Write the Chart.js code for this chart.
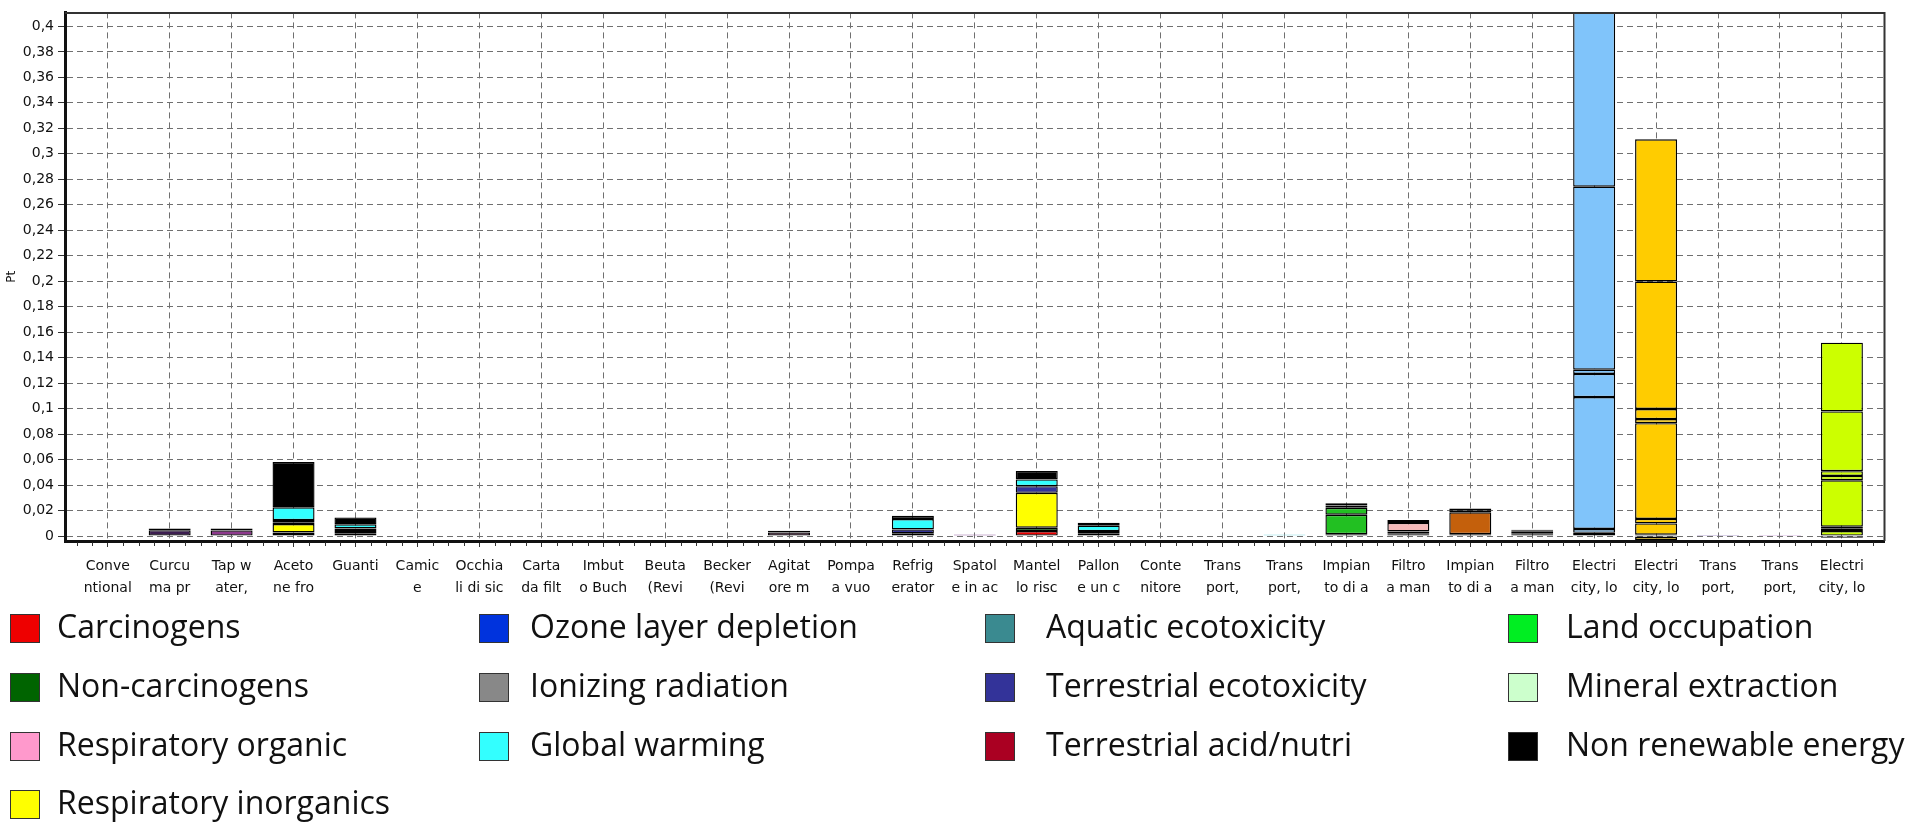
<!DOCTYPE html>
<html lang="it">
<head>
<meta charset="utf-8">
<title>Impact 2002+ – contributi per processo</title>
<script src="https://cdn.jsdelivr.net/npm/chart.js@4.4.1/dist/chart.umd.min.js"></script>
<style>
  html, body { margin: 0; padding: 0; background: #fff; }
  #wrap { position: relative; width: 1911px; height: 829px; overflow: hidden; }
  #chart { position: absolute; left: 0; top: 0; }
  #legend { position: absolute; left: 0; top: 0; width: 1911px; height: 829px; pointer-events: none;
            font-family: "Open Sans", sans-serif; font-size: 32px; color: #111; }
  .lg-box { position: absolute; width: 30px; height: 29px; box-sizing: border-box; border: 1px solid #333; }
  .lg-text { position: absolute; line-height: 1; white-space: nowrap; }
</style>
</head>
<body>
<div id="wrap">
  <canvas id="chart" width="1911" height="829"></canvas>
  <div id="legend"></div>
</div>
<script>
// Process names as shown under each bar (truncated, two lines)
const categoryLabels = [
  ["Conve", "ntional"], ["Curcu", "ma pr"], ["Tap w", "ater,"], ["Aceto", "ne fro"],
  ["Guanti", ""], ["Camic", "e"], ["Occhia", "li di sic"], ["Carta", "da filt"],
  ["Imbut", "o Buch"], ["Beuta", "(Revi"], ["Becker", "(Revi"], ["Agitat", "ore m"],
  ["Pompa", "a vuo"], ["Refrig", "erator"], ["Spatol", "e in ac"], ["Mantel", "lo risc"],
  ["Pallon", "e un c"], ["Conte", "nitore"], ["Trans", "port,"], ["Trans", "port,"],
  ["Impian", "to di a"], ["Filtro", "a man"], ["Impian", "to di a"], ["Filtro", "a man"],
  ["Electri", "city, lo"], ["Electri", "city, lo"], ["Trans", "port,"], ["Trans", "port,"],
  ["Electri", "city, lo"]
];

// Impact categories, in stacking order (bottom to top)
const impactNames = [
  "Carcinogens", "Non-carcinogens", "Respiratory inorganics", "Ionizing radiation",
  "Ozone layer depletion", "Respiratory organic", "Aquatic ecotoxicity",
  "Terrestrial ecotoxicity", "Terrestrial acid/nutri", "Land occupation",
  "Global warming", "Non renewable energy", "Mineral extraction"
];
const impactColours = [
  "#ee0000", "#006400", "#ffff00", "#888888",
  "#0033dd", "#ff99cc", "#3a8a90",
  "#333399", "#aa0022", "#00ee22",
  "#33ffff", "#000000", "#ccffcc"
];

// Single fill used for every segment of some processes (null = per-category colour)
const processColours = [
  null, "#3c1e50", "#8e3a8e", null, null, null, null, null,
  null, null, null, "#5c2048", null, null, "#9c6aa8", null,
  null, "#b8b8c8", "#b8b8c8", "#8adfe6", "#22c022", "#f4b8b8", "#c4600c", "#99dd99",
  "#80c4fa", "#ffcc00", "#6a4a9a", "#b070c0", "#ccff00"
];

// Scores in Pt, one array per impact category, one value per process
//                          0       1       2       3       4   5 6 7 8 9 10      11  12      13      14      15      16      17      18      19      20      21      22      23      24      25       26      27      28
const carcinogens       = [0, 0,      0,      0.0008, 0,      0,0,0,0,0,0, 0,      0, 0.0021, 0,      0.0039, 0,      0,      0,      0,      0.0014, 0.0010, 0.0014, 0.0010, 0.0025, 0.0010,  0,      0,      0.0039];
const nonCarcinogens    = [0, 0.0046, 0.0044, 0.0020, 0.0021, 0,0,0,0,0,0, 0.0028, 0, 0,      0,      0.0026, 0.0021, 0,      0,      0,      0,      0.0012, 0,      0.0012, 0.0030, 0.0089,  0,      0,      0.0018];
const respInorganics    = [0, 0,      0,      0.0066, 0,      0,0,0,0,0,0, 0,      0, 0,      0,      0.0274, 0,      0,      0,      0,      0.0153, 0.0014, 0.0172, 0,      0.1036, 0.0035,  0,      0,      0.0016];
const ionizing          = [0, 0,      0,      0.0014, 0,      0,0,0,0,0,0, 0,      0, 0,      0,      0,      0,      0,      0,      0,      0,      0,      0,      0,      0.0181, 0.0752,  0,      0,      0.0365];
const ozone             = [0, 0,      0,      0,      0,      0,0,0,0,0,0, 0,      0, 0,      0,      0,      0,      0,      0,      0,      0,      0,      0,      0,      0,      0,       0,      0,      0.0034];
const respOrganic       = [0, 0,      0,      0,      0.0018, 0,0,0,0,0,0, 0,      0, 0,      0,      0,      0,      0,      0,      0,      0,      0.0067, 0,      0,      0,      0,       0,      0,      0];
const aquaticEcotox     = [0, 0,      0,      0.0017, 0.0021, 0,0,0,0,0,0, 0,      0, 0,      0,      0,      0,      0,      0,      0,      0.0055, 0.0022, 0,      0.0012, 0,      0.0032,  0,      0,      0.0037];
const terrEcotox        = [0, 0,      0,      0,      0,      0,0,0,0,0,0, 0,      0, 0.0031, 0.0013, 0.0052, 0.0018, 0,      0,      0,      0,      0,      0,      0,      0.0034, 0.0079,  0,      0,      0];
const terrAcid          = [0, 0,      0,      0,      0,      0,0,0,0,0,0, 0,      0, 0,      0,      0,      0,      0,      0,      0,      0,      0,      0,      0,      0,      0,       0,      0,      0];
const landOccupation    = [0, 0,      0,      0,      0,      0,0,0,0,0,0, 0,      0, 0,      0,      0,      0,      0,      0,      0,      0,      0,      0,      0,      0,      -0.0031, 0,      0,      -0.0013];
const globalWarming     = [0, 0,      0,      0.0100, 0.0032, 0,0,0,0,0,0, 0,      0, 0.0081, 0,      0.0053, 0.0042, 0.0005, 0.0005, 0.0013, 0.0018, 0,      0.0017, 0.0008, 0.1436, 0.1001,  0.0009, 0.0009, 0.0469];
const nonRenewable      = [0, 0.0014, 0.0016, 0.0357, 0.0054, 0,0,0,0,0,0, 0.0014, 0, 0.0026, 0,      0.0067, 0.0023, 0,      0,      0,      0.0018, 0,      0.0014, 0.0008, 0.1600, 0.1116,  0,      0,      0.0540];
const mineralExtraction = [0, 0,      0,      0,      0,      0,0,0,0,0,0, 0,      0, 0,      0,      0,      0,      0,      0,      0,      0,      0,      0,      0,      0,      0,       0,      0,      0];

const impactValues = [
  carcinogens, nonCarcinogens, respInorganics, ionizing, ozone, respOrganic,
  aquaticEcotox, terrEcotox, terrAcid, landOccupation, globalWarming,
  nonRenewable, mineralExtraction
];

// Value axis tick labels (Pt, decimal comma)
const yTickLabels = ["0", "0,02", "0,04", "0,06", "0,08", "0,1", "0,12", "0,14", "0,16", "0,18",
                     "0,2", "0,22", "0,24", "0,26", "0,28", "0,3", "0,32", "0,34", "0,36", "0,38", "0,4"];
const yTickValues = yTickLabels.map(s => parseFloat(s.replace(",", ".")));

// Legend arrangement: columns of impact category indices
const legendColumns = [[0, 1, 5, 2], [4, 3, 10], [6, 7, 8], [9, 12, 11]];

// Processes whose whole score is a hairline get no dark outline
const processTotals = categoryLabels.map((_, i) => impactValues.reduce((s, arr) => s + Math.abs(arr[i]), 0));

const AXIS_FONT = { family: "'DejaVu Sans', sans-serif", size: 14 };

// Plot frame and minor ticks on the category axis
const framePlugin = {
  id: "frame",
  afterDraw(chart) {
    const { ctx, chartArea: a, scales } = chart;
    ctx.save();
    ctx.strokeStyle = "#333";
    ctx.lineWidth = 2;
    ctx.beginPath();
    ctx.moveTo(a.left, a.top + 0.5);
    ctx.lineTo(a.right + 0.5, a.top + 0.5);
    ctx.lineTo(a.right + 0.5, a.bottom);
    ctx.stroke();
    const xs = scales.x;
    ctx.strokeStyle = "#333";
    ctx.lineWidth = 1;
    ctx.beginPath();
    for (let q = Math.ceil(xs.min * 4); q <= Math.floor(xs.max * 4); q++) {
      if (q % 4 === 0) continue;
      const px = Math.round(xs.getPixelForValue(q / 4)) + 0.5;
      ctx.moveTo(px, a.bottom + 1.5);
      ctx.lineTo(px, a.bottom + 5);
    }
    ctx.stroke();
    ctx.restore();
  }
};

const fillFor = (i, k) => processColours[i] || impactColours[k];

const datasets = impactNames.map((name, k) => ({
  label: name,
  data: impactValues[k].map((v, i) => ({ x: i, y: v === 0 ? null : v })),
  backgroundColor: c => fillFor(c.dataIndex, k),
  borderColor: c => (processTotals[c.dataIndex] < 0.002 ? fillFor(c.dataIndex, k) : "#000"),
  borderWidth: 1.4,
  borderSkipped: false,
  inflateAmount: 0,
  barThickness: 42,
  clip: 0
}));

new Chart(document.getElementById("chart"), {
  type: "bar",
  data: { datasets },
  options: {
    responsive: false,
    animation: false,
    events: [],
    layout: { padding: { top: 11, right: 27, left: 0, bottom: 0 } },
    plugins: { legend: { display: false }, tooltip: { enabled: false } },
    scales: {
      x: {
        type: "linear",
        stacked: true,
        offset: false,
        min: -0.69,
        max: 28.68,
        afterBuildTicks: s => { s.ticks = categoryLabels.map((_, i) => ({ value: i })); },
        afterFit: s => { s.height = 288; },
        ticks: {
          autoSkip: false, maxRotation: 0, minRotation: 0, padding: 8,
          color: "#111", font: { ...AXIS_FONT, lineHeight: 1.57 },
          callback: v => categoryLabels[v]
        },
        grid: { offset: false, color: "#707070", lineWidth: 1, tickLength: 6, tickColor: "#333", tickWidth: 1 },
        border: { display: true, color: "#111", width: 3, dash: [6, 4] }
      },
      y: {
        stacked: true,
        min: -0.0039,
        max: 0.411,
        afterBuildTicks: s => { s.ticks = yTickValues.map(v => ({ value: v })); },
        afterFit: s => { s.width = 65; },
        ticks: {
          padding: 4, color: "#111", font: AXIS_FONT,
          callback: (v, i) => yTickLabels[i]
        },
        title: { display: true, text: "Pt", color: "#111", font: { family: "'DejaVu Sans', sans-serif", size: 12 }, padding: { top: 5, bottom: 0 } },
        grid: { color: "#707070", lineWidth: 1, tickLength: 7, tickColor: "#333", tickWidth: 1 },
        border: { display: true, color: "#111", width: 3, dash: [6, 4] }
      }
    }
  },
  plugins: [framePlugin]
});

// Legend below the plot
const legendEl = document.getElementById("legend");
const colX = [{ box: 10, text: 57 }, { box: 479, text: 530 }, { box: 985, text: 1046 }, { box: 1508, text: 1566 }];
const rowY = [628, 687, 746, 804];
legendColumns.forEach((col, c) => {
  col.forEach((k, r) => {
    const box = document.createElement("div");
    box.className = "lg-box";
    box.style.left = colX[c].box + "px";
    box.style.top = (rowY[r] - 14) + "px";
    box.style.background = impactColours[k];
    const txt = document.createElement("div");
    txt.className = "lg-text";
    txt.style.left = colX[c].text + "px";
    txt.style.top = (rowY[r] - 18) + "px";
    txt.textContent = impactNames[k];
    legendEl.appendChild(box);
    legendEl.appendChild(txt);
  });
});
</script>
</body>
</html>
